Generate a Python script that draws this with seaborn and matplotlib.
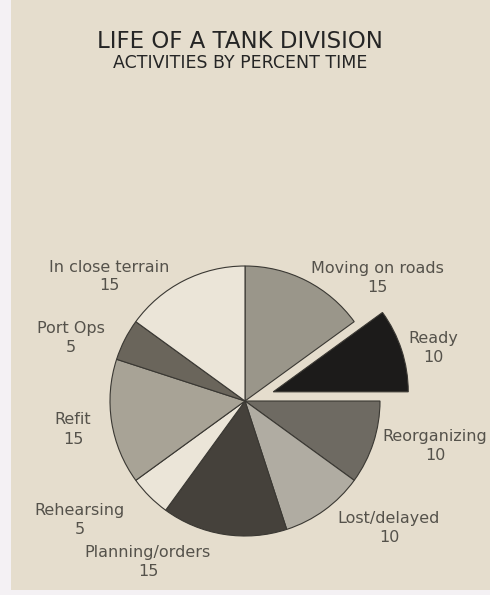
import matplotlib
matplotlib.use("Agg")
import matplotlib.pyplot as plt
from matplotlib.patches import Rectangle
import seaborn as sns

categories = ["Moving on roads", "Ready", "Reorganizing", "Lost/delayed",
              "Planning/orders", "Rehearsing", "Refit", "Port Ops", "In close terrain"]
values = [15, 10, 10, 10, 15, 5, 15, 5, 15]
shades = ["#9a968a", "#1c1b1a", "#6e6a62", "#b0aca2", "#45413b",
          "#ebe5d8", "#a8a396", "#6a655b", "#ebe5d8"]
explode = [0, 0.22, 0, 0, 0, 0, 0, 0, 0]
title = "LIFE OF A TANK DIVISION"
subtitle = "ACTIVITIES BY PERCENT TIME"

sns.set_theme(style="white")
plt.rcParams['font.family'] = ['DejaVu Sans']

bg = "#e5ddcd"
W, H = 490, 595
R = 135.0
cx, cy = 245, 401
fig = plt.figure(figsize=(W / 100, H / 100), dpi=100, facecolor=bg)
ax = fig.add_axes([0, 0, 1, 1])
ax.set_facecolor(bg)

ax.pie(values, colors=shades, explode=explode, startangle=90, counterclock=False,
       radius=1.0, wedgeprops=dict(edgecolor="#3a3833", linewidth=0.8))

ax.set_xlim(-cx / R, (W - cx) / R)
ax.set_ylim(-(H - cy) / R, cy / R)
ax.set_aspect("equal")
ax.axis("off")

# white margins of the photographed page
fig.patches.append(Rectangle((0, 0), 11 / W, 1, transform=fig.transFigure,
                             facecolor="#f4f1f4", edgecolor="none", zorder=5))
fig.patches.append(Rectangle((0, 0), 1, 5 / H, transform=fig.transFigure,
                             facecolor="#f4f1f4", edgecolor="none", zorder=5))

def px(x, y):
    return ((x - cx) / R, (cy - y) / R)

label_pos = {
    "Moving on roads": (377, 268),
    "Ready": (433, 338),
    "Reorganizing": (435, 437),
    "Lost/delayed": (389, 519),
    "Planning/orders": (148, 553),
    "Rehearsing": (80, 510),
    "Refit": (73, 420),
    "Port Ops": (71, 329),
    "In close terrain": (109, 267),
}
tc = "#55524b"
for name, v in zip(categories, values):
    x, y = label_pos[name]
    ax.text(*px(x, y), name, ha="center", va="center", fontsize=11.5, color=tc)
    ax.text(*px(x, y + 19), str(v), ha="center", va="center", fontsize=11.5, color=tc)

fig.text(240 / W, 1 - 42 / H, title, ha="center", va="center", fontsize=16.5, color="#252525")
fig.text(240 / W, 1 - 63 / H, subtitle, ha="center", va="center", fontsize=12.5, color="#252525")

fig.savefig("out.png", dpi=100, facecolor=bg)
